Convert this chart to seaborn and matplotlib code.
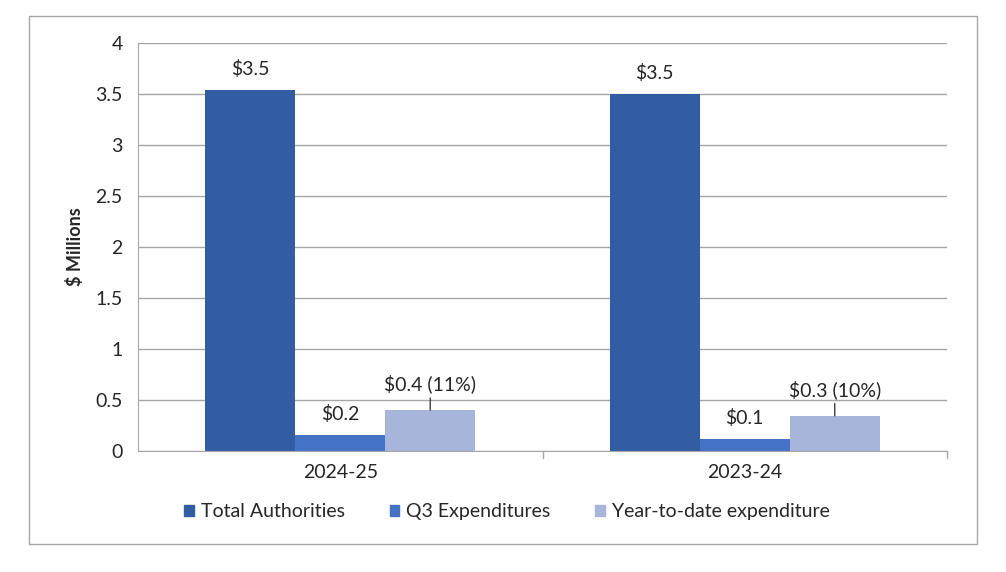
import numpy as np
import pandas as pd
import matplotlib.pyplot as plt
import matplotlib.patches as mpatches
import seaborn as sb

years = ["2024-25", "2023-24"]
series = ["Total Authorities", "Q3 Expenditures", "Year-to-date expenditure"]
total_auth = [3.54, 3.50]
q3_exp = [0.16, 0.12]
ytd_exp = [0.40, 0.345]
labels_total = ["$3.5", "$3.5"]
labels_q3 = ["$0.2", "$0.1"]
labels_ytd = ["$0.4 (11%)", "$0.3 (10%)"]
colors = ["#335DA3", "#4472C4", "#A7B5DB"]

df = pd.DataFrame({
    "year": years * 3,
    "series": [s for s in series for _ in years],
    "value": total_auth + q3_exp + ytd_exp,
})

sb.set_style("white")
plt.rcParams["font.family"] = ["Lato", "DejaVu Sans"]

fig = plt.figure(figsize=(10.06, 5.72), dpi=100)
ax = fig.add_axes([0.1372, 0.2115, 0.8042, 0.7133])

sb.barplot(data=df, x="year", y="value", hue="series", palette=colors,
           width=0.667, saturation=1, ax=ax, legend=False, linewidth=0)

ax.set_ylim(0, 4)
ax.set_yticks(np.arange(0, 4.01, 0.5))
ax.set_yticklabels(["0", "0.5", "1", "1.5", "2", "2.5", "3", "3.5", "4"])
ax.yaxis.grid(True, color="#A6A6A6", linewidth=1)
ax.set_axisbelow(True)
ax.set_xlim(-0.5, 1.5)
ax.set_xlabel("")
ax.set_ylabel("$ Millions", fontsize=13, fontweight="bold", labelpad=8)

for s in ["top", "right"]:
    ax.spines[s].set_visible(False)
ax.spines["left"].set_color("#A6A6A6")
ax.spines["bottom"].set_color("#A6A6A6")
ax.tick_params(axis="y", length=7, color="#A6A6A6", labelsize=14, pad=4)
ax.tick_params(axis="x", length=0, labelsize=14, pad=9)
# category separator ticks
for xp in [0.5, 1.5]:
    ax.plot([xp, xp], [0, -0.07], color="#A6A6A6", lw=1, clip_on=False)

# data labels
containers = ax.containers
for c, labs in zip(containers[:2], [labels_total, labels_q3]):
    for bar, lab in zip(c, labs):
        ax.annotate(lab, (bar.get_x() + bar.get_width() / 2, bar.get_height()),
                    xytext=(0, 15), textcoords="offset points",
                    ha="center", va="center", fontsize=14)
for bar, lab in zip(containers[2], labels_ytd):
    ax.annotate(lab, (bar.get_x() + bar.get_width() / 2, bar.get_height()),
                xytext=(0, 19), textcoords="offset points",
                ha="center", va="center", fontsize=14,
                arrowprops=dict(arrowstyle="-", color="#404040", lw=1,
                                shrinkA=1, shrinkB=0))

handles = [mpatches.Patch(color=c, label=s) for c, s in zip(colors, series)]
fig.legend(handles=handles, loc="center", bbox_to_anchor=(0.504, 0.105),
           ncol=3, frameon=False, fontsize=14, handlelength=0.5,
           handleheight=0.5, handletextpad=0.35, columnspacing=2.3)

fig.patches.append(mpatches.Rectangle((0.0288, 0.049), 0.9423, 0.923,
                                      transform=fig.transFigure, fill=False,
                                      edgecolor="#A6A6A6", lw=1))

fig.savefig("out.png", dpi=100)
